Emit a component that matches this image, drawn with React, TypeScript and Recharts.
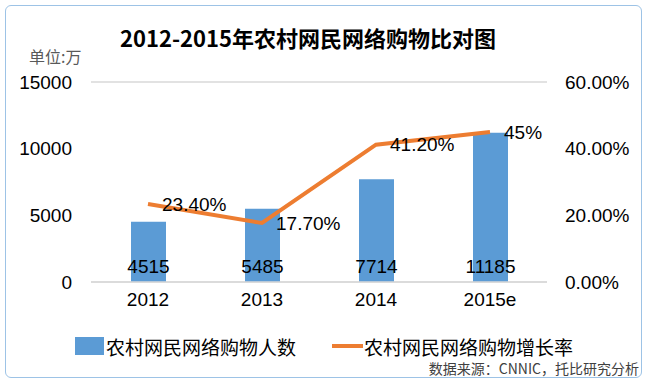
import React from 'react';
import { ComposedChart, Bar, Line, XAxis, YAxis, CartesianGrid, Legend, LabelList } from 'recharts';

const years = ['2012', '2013', '2014', '2015e'];
const users = [4515, 5485, 7714, 11185];
const growth = [23.4, 17.7, 41.2, 45];
const growthLabels = ['23.40%', '17.70%', '41.20%', '45%'];
const leftTicks = [0, 5000, 10000, 15000];
const rightTicks = [0, 20, 40, 60];

const data = years.map((y, i) => ({ year: y, users: users[i], growth: growth[i], gl: growthLabels[i] }));

const FONT = "'Liberation Sans', 'Noto Sans CJK SC', sans-serif";
const CJK = "'Noto Sans CJK SC', sans-serif";
const BLUE = '#5b9bd5';
const ORANGE = '#ed7d31';

const LegendContent = () => (
  <div style={{ display: 'flex', alignItems: 'center', justifyContent: 'center', height: 24, lineHeight: '19px', fontFamily: CJK, fontSize: 19, color: '#000' }}>
    <span style={{ display: 'inline-block', width: 29, height: 18, background: BLUE, marginRight: 2 }} />
    <span style={{ lineHeight: '19px' }}>农村网民网络购物人数</span>
    <span style={{ display: 'inline-block', width: 31, height: 4, background: ORANGE, marginLeft: 36, marginRight: 1 }} />
    <span style={{ lineHeight: '19px' }}>农村网民网络购物增长率</span>
  </div>
);

export default function App() {
  return (
    <div style={{ position: 'absolute', left: 0, top: 0, width: 648, height: 383, background: '#fff', fontFamily: FONT }}>
      <div style={{ position: 'absolute', left: 5, top: 5, width: 637, height: 373, border: '1.5px solid #9dc3e6', borderRadius: 6, boxSizing: 'border-box' }} />
      <div style={{ position: 'absolute', left: 0, top: 22, width: 616, textAlign: 'center', fontFamily: CJK, fontWeight: 700, fontSize: 22, color: '#000', lineHeight: '30px' }}>
        2012-2015年农村网民网络购物比对图
      </div>
      <div style={{ position: 'absolute', left: 29, top: 45, fontFamily: CJK, fontSize: 16, color: '#595959', lineHeight: '22px' }}>单位:万</div>
      <div style={{ position: 'absolute', right: 9, top: 362, fontFamily: CJK, fontSize: 14, color: '#404040', lineHeight: '13px', whiteSpace: 'nowrap' }}>数据来源：CNNIC，托比研究分析</div>
      <div style={{ position: 'absolute', left: 0, top: 0 }}>
        <ComposedChart width={648} height={383} data={data} margin={{ top: 82, right: 5, left: 5, bottom: 25 }}>
          <CartesianGrid vertical={false} stroke="#d9d9d9" strokeWidth={1.5} />
          <XAxis dataKey="year" axisLine={{ stroke: '#d9d9d9', strokeWidth: 1.5 }} tickLine={false} tickSize={0} tickMargin={11} height={52}
            tick={{ fill: '#000', fontSize: 19, fontFamily: FONT }} />
          <YAxis yAxisId="left" orientation="left" width={86} domain={[0, 15000]} ticks={leftTicks} axisLine={false} tickLine={false} tickSize={0} tickMargin={19}
            tick={{ fill: '#000', fontSize: 19, fontFamily: FONT }} />
          <YAxis yAxisId="right" orientation="right" width={96} domain={[0, 60]} ticks={rightTicks} axisLine={false} tickLine={false} tickSize={0} tickMargin={18}
            tickFormatter={(v: number) => v.toFixed(2) + '%'} tick={{ fill: '#000', fontSize: 19, fontFamily: FONT }} />
          <Legend verticalAlign="bottom" height={24} content={LegendContent} />
          <Bar yAxisId="left" dataKey="users" name="农村网民网络购物人数" fill={BLUE} barSize={35} isAnimationActive={false}>
            <LabelList dataKey="users" position="insideBottom" offset={9} fill="#000" fontSize={19} fontFamily={FONT} />
          </Bar>
          <Line yAxisId="right" dataKey="growth" name="农村网民网络购物增长率" stroke={ORANGE} strokeWidth={4} dot={false} isAnimationActive={false}>
            <LabelList dataKey="gl" position="right" offset={14} fill="#000" fontSize={19} fontFamily={FONT} />
          </Line>
        </ComposedChart>
      </div>
    </div>
  );
}
